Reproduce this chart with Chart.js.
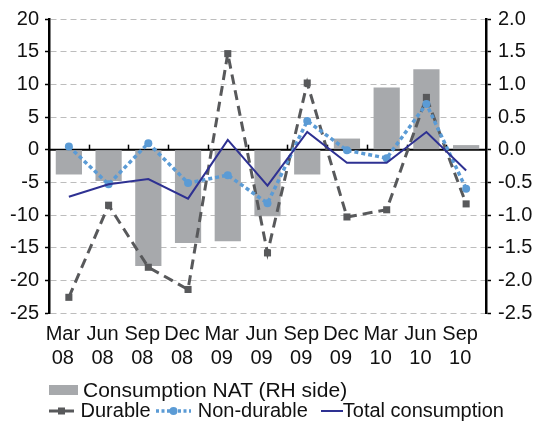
<!DOCTYPE html>
<html>
<head>
<meta charset="utf-8">
<script src="https://cdn.jsdelivr.net/npm/chart.js@4"></script>
<style>
  html, body { margin: 0; padding: 0; background: #fff; }
  #wrap { position: relative; width: 535px; height: 423px; font-family: "Liberation Sans", Arial, sans-serif; }
  #legend { position: absolute; left: 49px; top: 379px; font-size: 20px; color: #111; line-height: 21px; }
  .row { display: flex; align-items: center; white-space: nowrap; }
  .row svg { display: block; }
</style>
</head>
<body>
<div id="wrap">
  <canvas id="chart" width="535" height="423"></canvas>
  <div id="legend">
    <div class="row">
      <svg width="30" height="12"><rect x="0" y="1" width="29" height="10" fill="#A7A9AC"/></svg>
      <span style="font-size:21px; margin-left:4px">Consumption NAT (RH side)</span>
    </div>
    <div class="row">
      <svg width="26" height="12"><line x1="0" y1="6" x2="25" y2="6" stroke="#58595B" stroke-width="3"/><rect x="9" y="2.5" width="7" height="7" fill="#58595B"/></svg>
      <span>&nbsp;Durable&nbsp;</span>
      <svg width="36" height="12"><line x1="0" y1="6" x2="35" y2="6" stroke="#5B9BD5" stroke-width="3.5" stroke-dasharray="3,2.5"/><circle cx="17.5" cy="6" r="4" fill="#5B9BD5"/></svg>
      <span>&nbsp;Non-durable</span>
      <svg width="22" height="12" style="margin-left:13px"><line x1="0" y1="6" x2="22" y2="6" stroke="#2E3192" stroke-width="2"/></svg>
      <span>Total consumption</span>
    </div>
  </div>
</div>
<script>
const categories = [['Mar', '08'], ['Jun', '08'], ['Sep', '08'], ['Dec', '08'], ['Mar', '09'], ['Jun', '09'],
                    ['Sep', '09'], ['Dec', '09'], ['Mar', '10'], ['Jun', '10'], ['Sep', '10']];
// Consumption NAT, right-hand axis
const consumptionNat = [-0.38, -0.48, -1.78, -1.43, -1.40, -1.02, -0.38, 0.17, 0.95, 1.23, 0.07];
// left-hand axis
const durable = [-22.6, -8.5, -18.0, -21.4, 14.7, -15.8, 10.2, -10.3, -9.2, 8.0, -8.3];
const nonDurable = [0.5, -5.3, 1.0, -5.1, -3.9, -8.2, 4.4, -0.1, -1.3, 7.0, -6.0];
const totalConsumption = [-7.2, -5.3, -4.5, -7.5, 1.5, -5.5, 2.7, -2.0, -2.0, 2.7, -3.2];

// zero line + small category ticks on it
const zeroLine = {
    id: 'zeroLine',
    beforeDatasetsDraw(chart) {
        const ctx = chart.ctx;
        const x = chart.scales.x;
        const y = chart.scales.y;
        const y0 = y.getPixelForValue(0);
        ctx.save();
        ctx.strokeStyle = '#000';
        ctx.lineWidth = 2;
        ctx.beginPath();
        ctx.moveTo(chart.chartArea.left, y0);
        ctx.lineTo(chart.chartArea.right, y0);
        ctx.stroke();
        ctx.lineWidth = 1.5;
        const half = (x.getPixelForValue(1) - x.getPixelForValue(0)) / 2;
        for (let i = 0; i < categories.length - 1; i++) {
            const px = Math.round(x.getPixelForValue(i) + half) + 0.5;
            ctx.beginPath();
            ctx.moveTo(px, y0);
            ctx.lineTo(px, y0 - 5);
            ctx.stroke();
        }
        ctx.restore();
    }
};

const ctx = document.getElementById('chart').getContext('2d');
new Chart(ctx, {
    type: 'bar',
    data: {
        labels: categories,
        datasets: [{
            type: 'line',
            label: 'Total consumption',
            data: totalConsumption,
            yAxisID: 'y',
            borderColor: '#2E3192',
            borderWidth: 2,
            pointRadius: 0,
            tension: 0,
            order: 1
        }, {
            type: 'line',
            label: 'Non-durable',
            data: nonDurable,
            yAxisID: 'y',
            borderColor: '#5B9BD5',
            backgroundColor: '#5B9BD5',
            borderWidth: 3.5,
            borderDash: [4, 3],
            pointStyle: 'circle',
            pointRadius: 4,
            pointBorderWidth: 0,
            tension: 0,
            order: 2
        }, {
            type: 'line',
            label: 'Durable',
            data: durable,
            yAxisID: 'y',
            borderColor: '#58595B',
            backgroundColor: '#58595B',
            borderWidth: 3,
            borderDash: [10, 6],
            pointStyle: 'rect',
            pointRadius: 5,
            pointBorderWidth: 0,
            tension: 0,
            order: 3
        }, {
            label: 'Consumption NAT (RH side)',
            data: consumptionNat,
            yAxisID: 'y1',
            backgroundColor: '#A7A9AC',
            barPercentage: 0.66,
            categoryPercentage: 1.0,
            order: 10
        }]
    },
    options: {
        responsive: false,
        animation: false,
        layout: { padding: { top: 9, bottom: 53, left: 0, right: 0 } },
        plugins: {
            legend: { display: false },
            tooltip: { enabled: false }
        },
        scales: {
            x: {
                grid: { display: false },
                border: { display: false },
                ticks: {
                    color: '#111',
                    font: { family: 'Liberation Sans', size: 20 },
                    padding: 1,
                    labelOffset: -6,
                    maxRotation: 0,
                    autoSkip: false
                },
                afterFit(scale) { scale.height = 57; }
            },
            y: {
                position: 'left',
                min: -25,
                max: 20,
                ticks: {
                    stepSize: 5,
                    color: '#111',
                    font: { family: 'Liberation Sans', size: 20 },
                    padding: 6
                },
                grid: {
                    color: c => (c.tick && c.tick.value === 0) ? 'rgba(0,0,0,0)' : '#BDBDBD',
                    lineWidth: 1,
                    tickColor: '#000',
                    tickLength: 4,
                    tickWidth: 1.5
                },
                border: { display: true, color: '#000', width: 2.5, dash: [6, 4] },
                afterFit(scale) { scale.width = 49; }
            },
            y1: {
                position: 'right',
                min: -2.5,
                max: 2.0,
                ticks: {
                    stepSize: 0.5,
                    color: '#111',
                    font: { family: 'Liberation Sans', size: 20 },
                    padding: 7,
                    callback: v => v.toFixed(1)
                },
                grid: {
                    drawOnChartArea: false,
                    tickColor: '#000',
                    tickLength: 5,
                    tickWidth: 1.5
                },
                border: { display: true, color: '#000', width: 2.5 },
                afterFit(scale) { scale.width = 49; }
            }
        }
    },
    plugins: [zeroLine]
});
</script>
</body>
</html>
